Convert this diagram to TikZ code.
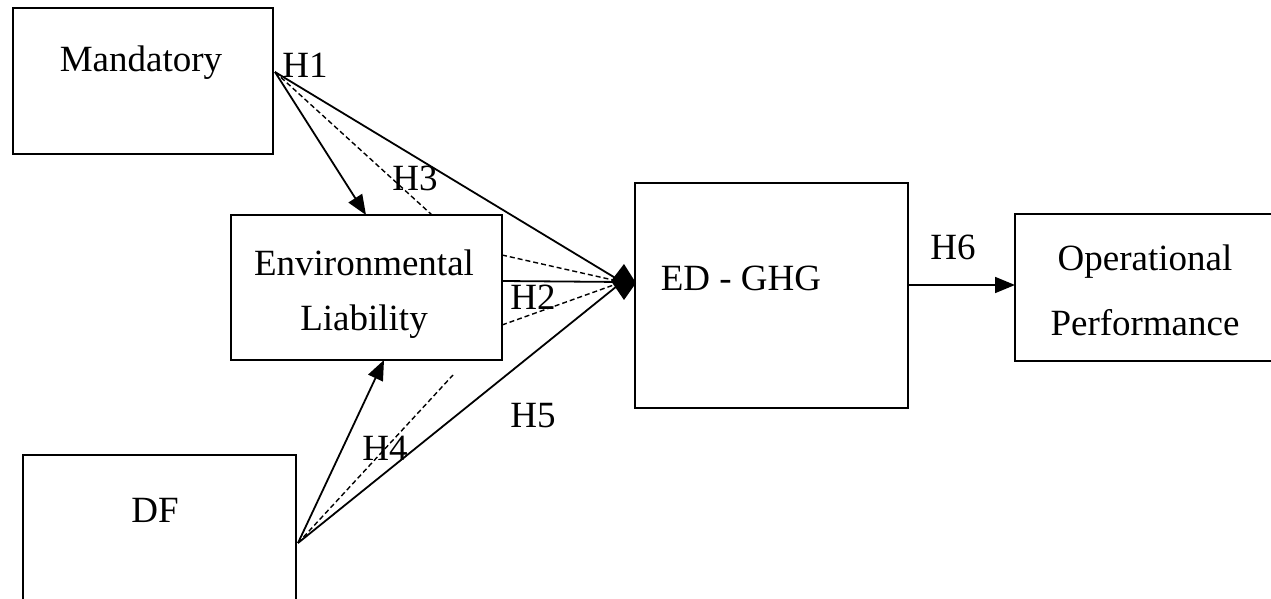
\documentclass[tikz,border=0pt]{standalone}
\usepackage{fontspec}
\setmainfont{Liberation Serif}
\usetikzlibrary{arrows.meta}
\begin{document}
\begin{tikzpicture}[x=0.5pt,y=-0.5pt,
  box/.style={draw,line width=1pt,inner sep=0pt},
  lbl/.style={font=\fontsize{18.5}{22}\selectfont,inner sep=0pt},
  conn/.style={line width=0.9pt},
  dconn/.style={line width=0.7pt,dash pattern=on 2.5pt off 1.5pt},
  arr/.style={-{Triangle[length=10pt,width=8pt]}}]
\useasboundingbox (0,0) rectangle (1271,599);
% boxes
\draw[box] (13,8) rectangle (273,154);
\draw[box] (231,215) rectangle (502,360);
\draw[box] (23,455) rectangle (296,640);
\draw[box] (635,183) rectangle (908,408);
\draw[box] (1015,214) rectangle (1275,361);
% texts
\node[lbl] (tmand) at (141,63) {Mandatory};
\node[lbl] (tenv1) at (364,263) {Environmental};
\node[lbl] (tenv2) at (364,322) {Liability};
\node[lbl] (tdf) at (155,510) {DF};
\node[lbl] (ted) at (741,278) {ED - GHG};
\node[lbl] (top1) at (1145,262) {Operational};
\node[lbl] (top2) at (1145,323) {Performance};
% anchor coordinates
\coordinate (m) at (275,72);
\coordinate (envtopA) at (366,215);
\coordinate (envtopB) at (432,215);
\coordinate (envr1) at (502,255);
\coordinate (envr2) at (502,281);
\coordinate (envr3) at (502,325);
\coordinate (envbot) at (384,360);
\coordinate (dfend) at (453,375);
\coordinate (d) at (298,543);
\coordinate (dia) at (622,282);
\coordinate (edr) at (908,285);
\coordinate (opl) at (1015,285);
% connectors
\draw[conn,arr] (m) -- (envtopA);
\draw[dconn] (m) -- (envtopB);
\draw[conn] (m) -- (dia);
\draw[dconn] (envr1) -- (dia);
\draw[conn] (envr2) -- (dia);
\draw[dconn] (envr3) -- (dia);
\draw[conn,arr] (d) -- (envbot);
\draw[dconn] (d) -- (dfend);
\draw[conn] (d) -- (dia);
\fill (611,281) -- (624,264) -- (636,283) -- (624,300) -- cycle;
\draw[conn,arr] (edr) -- (opl);
% labels
\node[lbl] (h1) at (305,65) {H1};
\node[lbl] (h3) at (415,178) {H3};
\node[lbl] (h2) at (533,297) {H2};
\node[lbl] (h4) at (385,448) {H4};
\node[lbl] (h5) at (533,416) {H5};
\node[lbl] (h6) at (953,247) {H6};
\end{tikzpicture}
\end{document}
